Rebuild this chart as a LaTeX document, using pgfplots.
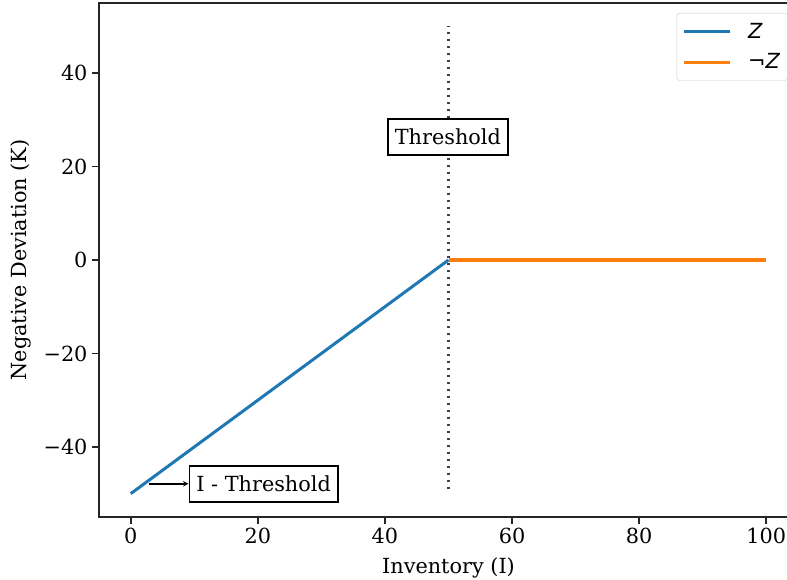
\documentclass[border=0pt]{standalone}
\usepackage{fontspec}
\setmainfont{DejaVu Serif}
\newfontfamily\dvs{DejaVu Sans}
\usepackage{pgfplots}
\pgfplotsset{compat=1.18}
\definecolor{mplblue}{HTML}{1F77B4}
\definecolor{mplorange}{HTML}{FF7F0E}
\begin{document}
\begin{tikzpicture}
\begin{axis}[
  at={(0,0)}, anchor=south west,
  scale only axis,
  width=699bp, height=514bp,
  xmin=-5, xmax=105, ymin=-55, ymax=55,
  xtick={0,20,40,60,80,100},
  ytick={-40,-20,0,20,40},
  yticklabels={−40,−20,0,20,40},
  /pgf/number format/assume math mode=true,
  tick align=outside,
  major tick length=7bp,
  tick style={line width=1.5bp, black!85},
  axis line style={line width=1.5bp, black!85},
  xtick pos=bottom, ytick pos=left,
  every tick label/.append style={font=\fontsize{20.8bp}{25bp}\selectfont},
  xticklabel style={yshift=-1bp},
  yticklabel style={xshift=-1bp},
  label style={font=\fontsize{20.8bp}{25bp}\selectfont},
  xlabel={Inventory (I)},
  ylabel={Negative Deviation (K)},
  xlabel style={yshift=-7bp},
  ylabel style={yshift=6bp},
  legend style={at={(1,1)}, anchor=north east, xshift=-10bp, yshift=-10bp,
    draw=black!20, rounded corners=3bp, fill=white,
    font=\fontsize{20.8bp}{25bp}\selectfont,
    inner xsep=6bp, inner ysep=8bp, row sep=10bp},
  legend cell align=left,
  legend image code/.code={\draw[#1] (0bp,0bp) -- (46bp,0bp);},
]
\addplot[mplblue, line width=3bp] coordinates {(0,-50) (50,0)};
\addlegendentry{\hspace{14bp}{\dvs\itshape Z}}
\addplot[mplorange, line width=3.3bp] coordinates {(50,0) (100,0)};
\addlegendentry{\hspace{14bp}{\dvs ¬\itshape Z}}
\addplot[black!75, line width=2.6bp, dash pattern=on 2.4bp off 4.6bp, forget plot] coordinates {(50,-49) (50,50)};
\node[draw=black, line width=1.5bp, fill=white, inner xsep=7bp, inner ysep=10bp, font=\fontsize{20.8bp}{25bp}\selectfont] at (axis cs:49.9,26.3) {Threshold};
\node[draw=black, line width=1.5bp, fill=white, inner xsep=7bp, inner ysep=10bp, anchor=west, font=\fontsize{20.8bp}{25bp}\selectfont] (it) at (axis cs:9.1,-47.9) {I - Threshold};
\draw[-stealth, line width=1.5bp] (axis cs:2.8,-47.9) -- (it.west);
\end{axis}
\pgfresetboundingbox
\path[use as bounding box] (-99bp,-63bp) rectangle (688bp,517bp);
\end{tikzpicture}
\end{document}
